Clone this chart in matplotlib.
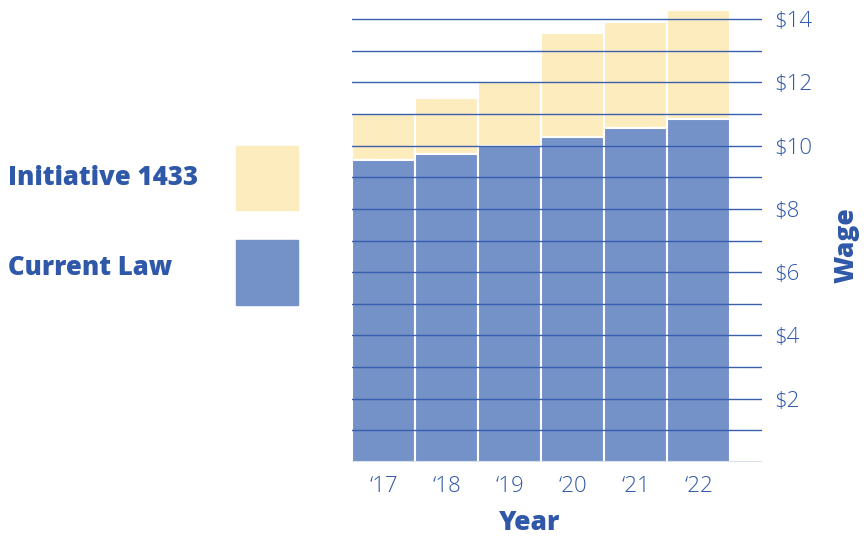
import numpy as np
import matplotlib.pyplot as plt
from matplotlib.patches import Rectangle

# данные
years = ['\u201817', '\u201818', '\u201819', '\u201820', '\u201821', '\u201822']
current_law = [9.53, 9.74, 9.99, 10.27, 10.55, 10.84]
initiative = [11.00, 11.50, 12.00, 13.57, 13.92, 14.30]
wage_ticks = [2, 4, 6, 8, 10, 12, 14]

blue = '#7491C8'
yellow = '#FDEDBE'
text_c = '#2F58A8'
grid_c = '#3A5FAE'
bold_font = 'Open Sans'
light_font = 'Open Sans'

fig = plt.figure(figsize=(8.67, 5.39), dpi=100)
ax = fig.add_axes([352 / 867, 77 / 539, 410 / 867, 454 / 539])

x = np.arange(len(years))
ax.bar(x, initiative, width=1.0, color=yellow, edgecolor='white', linewidth=1.5, zorder=1)
ax.bar(x, current_law, width=1.0, color=blue, edgecolor='white', linewidth=1.5, zorder=2)

# линии сетки поверх столбцов
for v in range(0, 15):
    ax.axhline(v, color=grid_c, linewidth=1.0, zorder=3)

ax.set_xlim(-0.5, 6.0)
ax.set_ylim(0, 14.35)

for s in ax.spines.values():
    s.set_visible(False)

ax.yaxis.tick_right()
ax.set_yticks(wage_ticks)
ax.set_yticklabels([f'${v}' for v in wage_ticks])
ax.tick_params(axis='y', length=0, pad=9, labelsize=16, labelcolor=text_c)
for t in ax.get_yticklabels():
    t.set_fontfamily(light_font)
    t.set_fontweight('light')

ax.set_xticks(x)
ax.set_xticklabels(years)
ax.tick_params(axis='x', length=0, pad=10, labelsize=16, labelcolor=text_c)
for t in ax.get_xticklabels():
    t.set_fontfamily(light_font)
    t.set_fontweight('light')

fig.text(530 / 867, 1 - 523 / 539, 'Year', fontsize=19, color=text_c,
         fontweight='heavy', family=bold_font, ha='center', va='center')
fig.text(847 / 867, 1 - 245 / 539, 'Wage', rotation=90, fontsize=19, color=text_c,
         fontweight='heavy', family=bold_font, ha='center', va='center')

# легенда
fig.text(8 / 867, 1 - 178 / 539, 'Initiative 1433', fontsize=18.5, color=text_c,
         fontweight='heavy', family=bold_font, ha='left', va='center')
fig.text(8 / 867, 1 - 268 / 539, 'Current Law', fontsize=18.5, color=text_c,
         fontweight='heavy', family=bold_font, ha='left', va='center')
fig.patches.append(Rectangle((236 / 867, 1 - 210 / 539), 62 / 867, 64 / 539,
                             transform=fig.transFigure, color=yellow))
fig.patches.append(Rectangle((236 / 867, 1 - 305 / 539), 62 / 867, 65 / 539,
                             transform=fig.transFigure, color=blue))

fig.savefig('out.png', dpi=100)
